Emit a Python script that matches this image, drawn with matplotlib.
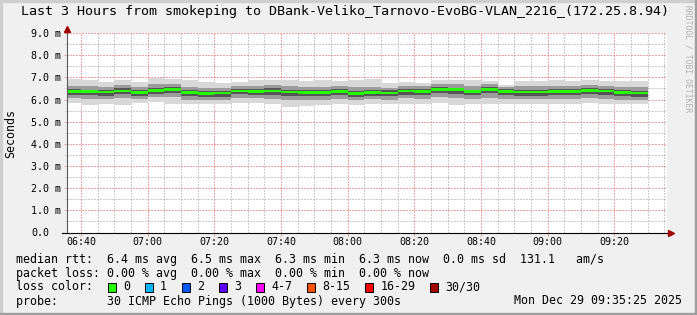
import numpy as np
import matplotlib
matplotlib.use("Agg")
import matplotlib.pyplot as plt
from matplotlib.patches import Rectangle

plt.rcParams['font.family'] = ['DejaVu Sans Mono']

W, H = 697, 315

# 5 minute steps, minutes after midnight (first step 06:35-06:40 is cut by the left edge)
step_edges = np.arange(395, 575, 5)

# median rtt per step (ms)
median_rtt = [6.37, 6.35, 6.34, 6.39, 6.32, 6.42, 6.46, 6.31, 6.27, 6.29, 6.39, 6.37,
              6.39, 6.34, 6.32, 6.31, 6.36, 6.27, 6.31, 6.30, 6.38, 6.37, 6.46, 6.44,
              6.35, 6.45, 6.36, 6.34, 6.34, 6.37, 6.35, 6.42, 6.38, 6.31, 6.29]
# smoke: outer (min/max), middle and inner ping bands
rtt_max = [6.91, 6.88, 6.78, 6.88, 6.78, 6.95, 6.91, 6.88, 6.78, 6.75, 6.78, 6.88,
           6.88, 6.88, 6.83, 6.88, 6.83, 6.88, 6.91, 6.75, 6.78, 6.75, 6.88, 6.88,
           6.88, 6.83, 6.67, 6.83, 6.83, 6.88, 6.83, 6.88, 6.83, 6.83, 6.83]
rtt_min = [5.84, 5.73, 5.78, 5.73, 5.84, 5.89, 5.81, 5.81, 5.78, 5.78, 5.84, 5.84,
           5.78, 5.66, 5.69, 5.73, 5.81, 5.73, 5.81, 5.78, 5.78, 5.81, 5.84, 5.73,
           5.78, 5.81, 5.81, 5.81, 5.78, 5.78, 5.81, 5.84, 5.81, 5.81, 5.78]
rtt_hi2 = [6.62, 6.60, 6.57, 6.66, 6.55, 6.68, 6.70, 6.58, 6.52, 6.53, 6.63, 6.62,
           6.64, 6.60, 6.58, 6.57, 6.60, 6.55, 6.58, 6.54, 6.62, 6.60, 6.70, 6.68,
           6.61, 6.68, 6.58, 6.60, 6.59, 6.62, 6.60, 6.66, 6.63, 6.57, 6.56]
rtt_lo2 = [6.05, 6.02, 6.03, 6.06, 6.01, 6.12, 6.10, 6.00, 5.98, 5.99, 6.06, 6.05,
           6.04, 5.98, 5.99, 6.00, 6.04, 5.97, 6.01, 5.99, 6.05, 6.04, 6.10, 6.06,
           6.02, 6.09, 6.03, 6.02, 6.01, 6.04, 6.03, 6.08, 6.04, 6.00, 5.99]
rtt_hi3 = [6.47, 6.45, 6.45, 6.50, 6.43, 6.52, 6.55, 6.42, 6.38, 6.40, 6.49, 6.47,
           6.50, 6.45, 6.43, 6.42, 6.46, 6.38, 6.42, 6.41, 6.48, 6.47, 6.56, 6.54,
           6.45, 6.55, 6.46, 6.45, 6.44, 6.47, 6.46, 6.52, 6.48, 6.42, 6.40]
rtt_lo3 = [6.21, 6.19, 6.18, 6.23, 6.16, 6.27, 6.29, 6.15, 6.12, 6.13, 6.23, 6.21,
           6.22, 6.17, 6.16, 6.15, 6.20, 6.11, 6.15, 6.14, 6.22, 6.21, 6.29, 6.26,
           6.19, 6.28, 6.20, 6.18, 6.18, 6.21, 6.19, 6.26, 6.22, 6.15, 6.13]

x_ticks = [400, 420, 440, 460, 480, 500, 520, 540, 560]
x_labels = ['06:40', '07:00', '07:20', '07:40', '08:00', '08:20', '08:40', '09:00', '09:20']

title = 'Last 3 Hours from smokeping to DBank-Veliko_Tarnovo-EvoBG-VLAN_2216_(172.25.8.94)'
line_rtt = 'median rtt:  6.4 ms avg  6.5 ms max  6.3 ms min  6.3 ms now  0.0 ms sd  131.1   am/s'
line_loss = 'packet loss: 0.00 % avg  0.00 % max  0.00 % min  0.00 % now'
loss_names = ['0', '1', '2', '3', '4-7', '8-15', '16-29', '30/30']
loss_colors = ['#26ff00', '#00b8ff', '#0059ff', '#5e00ff', '#ff00ff', '#ff5500', '#ff0000', '#a10000']
probe_text = 'probe:       30 ICMP Echo Pings (1000 Bytes) every 300s'
stamp = 'Mon Dec 29 09:35:25 2025'


def fx(px):
    return px / W


def fy(py):
    return 1 - py / H


fig = plt.figure(figsize=(W / 100, H / 100), dpi=100, facecolor='#f0f0f0')
ax = fig.add_axes([fx(67), fy(232.5), 600 / W, 199.5 / H])
ax.set_facecolor('white')

# smoke
med = np.array(median_rtt)
ax.stairs(rtt_max, step_edges, baseline=rtt_min, fill=True, color='#d8d8d8', lw=0, zorder=1)
ax.stairs(rtt_hi2, step_edges, baseline=rtt_lo2, fill=True, color='#9c9c9c', lw=0, zorder=1.1)
ax.stairs(rtt_hi3, step_edges, baseline=rtt_lo3, fill=True, color='#555555', lw=0, zorder=1.2)
ax.stairs(med + 0.06, step_edges, baseline=med - 0.06, fill=True, color='#26ff00', lw=0, zorder=3)

ax.set_xlim(395.8, 575.8)
ax.set_ylim(0, 9)

ax.set_xticks(x_ticks)
ax.set_xticklabels(x_labels)
ax.set_xticks([m for m in range(400, 576, 5) if m % 20], minor=True)
ax.set_yticks(np.arange(0, 10))
ax.set_yticklabels(['0.0'] + ['%.1f m' % v for v in range(1, 10)], ha='left')
ax.set_yticks(np.arange(0.5, 9, 1.0), minor=True)

ax.set_axisbelow(True)
ax.grid(which='minor', color=(0.6, 0.6, 0.6, 0.25), ls=(0, (1, 2)), lw=0.72)
ax.grid(which='major', color=(0.9, 0.3, 0.3, 0.25), ls=(0, (1, 2)), lw=0.72)

ax.tick_params(axis='x', which='major', length=2, width=0.7, color='#d8a0a0', pad=1.5, labelsize=7.2)
ax.tick_params(axis='x', which='minor', length=0)
ax.tick_params(axis='y', which='major', length=2, width=0.7, color='#e4b0b0', pad=24, labelsize=7.2)
ax.tick_params(axis='y', which='minor', length=2, width=0.7, color='#d8d8d8')

for s in ax.spines.values():
    s.set_visible(False)

# axis lines with arrows
ax.plot([0, 0], [0, 1.02], transform=ax.transAxes, color='#5a5a5a', lw=0.8, clip_on=False, zorder=4)
ax.plot([-0.008, 1.004], [0, 0], transform=ax.transAxes, color='black', lw=0.8, clip_on=False, zorder=4)
ax.plot([0], [1.022], transform=ax.transAxes, marker='^', color='#a00000', ms=4.5, clip_on=False, zorder=5)
ax.plot([1.006], [0], transform=ax.transAxes, marker='>', color='#a00000', ms=4.5, clip_on=False, zorder=5)

# texts
fig.text(fx(345), fy(12), title, ha='center', va='center', fontsize=9.6)
fig.text(fx(11), fy(133), 'Seconds', rotation=90, ha='center', va='center', fontsize=8.4)
fig.text(fx(688), fy(5), 'RRDTOOL / TOBI OETIKER', rotation=270, ha='center', va='top',
         fontsize=5.8, color='#b0b0b0')

fs = 8.4
cw = 7.02
fig.text(fx(16), fy(259), line_rtt, ha='left', va='center', fontsize=fs)
fig.text(fx(16), fy(273), line_loss, ha='left', va='center', fontsize=fs)
fig.text(fx(16), fy(287), 'loss color:', ha='left', va='center', fontsize=fs)
bx = 108
for name, col in zip(loss_names, loss_colors):
    fig.patches.append(Rectangle((fx(bx), fy(291.5)), 8 / W, 9 / H, transform=fig.transFigure,
                                 facecolor=col, edgecolor='black', lw=0.7))
    fig.text(fx(bx + 15), fy(287), name, ha='left', va='center', fontsize=fs)
    bx = bx + 15 + len(name) * cw + 15
fig.text(fx(16), fy(301), probe_text, ha='left', va='center', fontsize=fs)
fig.text(fx(682), fy(301), stamp, ha='right', va='center', fontsize=fs)

# frame shades
fig.patches.append(Rectangle((0, 0), 2 / W, 1, transform=fig.transFigure, color='#cfcfcf'))
fig.patches.append(Rectangle((0, 1 - 2 / H), 1, 2 / H, transform=fig.transFigure, color='#cfcfcf'))
fig.patches.append(Rectangle((0, 0), 1, 2 / H, transform=fig.transFigure, color='#9e9e9e'))
fig.patches.append(Rectangle((1 - 2 / W, 0), 2 / W, 1, transform=fig.transFigure, color='#9e9e9e'))

fig.savefig('out.png', dpi=100, facecolor=fig.get_facecolor())
